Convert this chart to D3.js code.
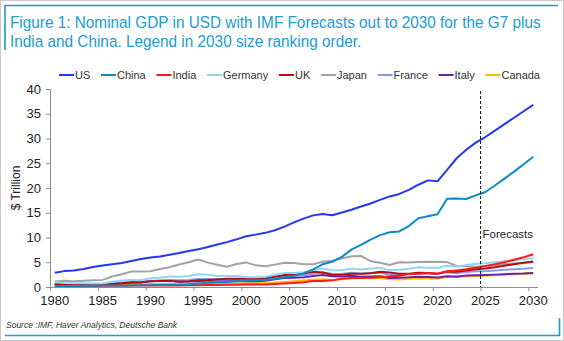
<!DOCTYPE html>
<html>
<head>
<meta charset="utf-8">
<script src="https://cdn.jsdelivr.net/npm/d3@7"></script>
<style>
  html, body { margin: 0; padding: 0; background: #fff; }
  svg { display: block; font-family: "Liberation Sans", Arial, sans-serif; }
</style>
</head>
<body>
<div id="chart"></div>
<script>
// Nominal GDP, $ trillion, 1980-2030 (IMF forecasts from 2025)
const years = d3.range(1980, 2031);
const countries = ['US', 'China', 'India', 'Germany', 'UK', 'Japan', 'France', 'Italy', 'Canada'];
const colors = ['#2438f0', '#0a8ac6', '#ff1a1a', '#93d5f5', '#b40f0f', '#a3a3a3', '#7f9ef2', '#6a22a8', '#ffbb00'];

const us = [2.86, 3.21, 3.35, 3.64, 4.04, 4.34, 4.58, 4.86, 5.24, 5.64, 5.96, 6.16, 6.52, 6.86, 7.29, 7.64, 8.07, 8.58, 9.06, 9.63,
  10.25, 10.58, 10.94, 11.46, 12.21, 13.04, 13.82, 14.47, 14.77, 14.48, 15.05, 15.60, 16.25, 16.88, 17.61, 18.30, 18.80, 19.61, 20.66, 21.54,
  21.35, 23.68, 26.01, 27.72, 29.17, 30.30, 31.60, 32.90, 34.20, 35.50, 36.80];
const china = [0.19, 0.20, 0.21, 0.23, 0.26, 0.31, 0.30, 0.27, 0.31, 0.35, 0.36, 0.38, 0.43, 0.44, 0.56, 0.73, 0.86, 0.96, 1.03, 1.09,
  1.21, 1.34, 1.47, 1.66, 1.96, 2.29, 2.75, 3.55, 4.59, 5.10, 6.09, 7.55, 8.53, 9.57, 10.48, 11.06, 11.23, 12.31, 13.89, 14.28,
  14.69, 17.82, 17.88, 17.79, 18.50, 19.20, 20.50, 21.90, 23.30, 24.80, 26.30];
const india = [0.19, 0.20, 0.21, 0.22, 0.22, 0.24, 0.25, 0.28, 0.30, 0.30, 0.33, 0.28, 0.29, 0.28, 0.33, 0.37, 0.40, 0.42, 0.43, 0.47,
  0.48, 0.49, 0.51, 0.61, 0.71, 0.82, 0.94, 1.22, 1.20, 1.34, 1.68, 1.82, 1.83, 1.86, 2.04, 2.10, 2.29, 2.65, 2.70, 2.84,
  2.67, 3.17, 3.35, 3.57, 3.89, 4.27, 4.60, 5.00, 5.50, 6.00, 6.60];
const germany = [0.95, 0.80, 0.78, 0.77, 0.72, 0.73, 1.04, 1.30, 1.41, 1.40, 1.77, 1.87, 2.13, 2.07, 2.21, 2.59, 2.50, 2.22, 2.24, 2.20,
  1.95, 1.95, 2.08, 2.50, 2.81, 2.85, 2.99, 3.42, 3.73, 3.40, 3.40, 3.74, 3.53, 3.73, 3.88, 3.36, 3.47, 3.69, 3.97, 3.89,
  3.89, 4.28, 4.08, 4.46, 4.71, 4.80, 5.00, 5.20, 5.40, 5.60, 5.80];
const uk = [0.60, 0.58, 0.55, 0.52, 0.49, 0.52, 0.63, 0.78, 0.95, 0.96, 1.17, 1.19, 1.21, 1.09, 1.17, 1.34, 1.41, 1.56, 1.65, 1.69,
  1.66, 1.64, 1.78, 2.05, 2.42, 2.54, 2.71, 3.09, 2.93, 2.41, 2.49, 2.66, 2.70, 2.79, 3.07, 2.93, 2.69, 2.68, 2.87, 2.85,
  2.70, 3.14, 3.09, 3.34, 3.59, 3.75, 4.00, 4.30, 4.60, 4.90, 5.15];
const japan = [1.13, 1.25, 1.16, 1.26, 1.34, 1.43, 2.13, 2.58, 3.12, 3.12, 3.19, 3.65, 3.99, 4.54, 4.99, 5.55, 4.92, 4.49, 4.10, 4.64,
  4.97, 4.37, 4.18, 4.52, 4.89, 4.83, 4.60, 4.58, 5.11, 5.29, 5.76, 6.23, 6.27, 5.21, 4.90, 4.44, 5.00, 4.93, 5.04, 5.12,
  5.06, 5.03, 4.26, 4.21, 4.07, 4.20, 4.40, 4.60, 4.75, 4.90, 5.05];
const france = [0.70, 0.62, 0.59, 0.56, 0.53, 0.55, 0.77, 0.93, 1.02, 1.03, 1.27, 1.28, 1.41, 1.34, 1.41, 1.60, 1.61, 1.46, 1.51, 1.49,
  1.36, 1.38, 1.50, 1.84, 2.12, 2.20, 2.32, 2.66, 2.93, 2.70, 2.65, 2.87, 2.68, 2.81, 2.86, 2.44, 2.47, 2.59, 2.79, 2.73,
  2.65, 2.96, 2.78, 3.03, 3.16, 3.20, 3.35, 3.50, 3.60, 3.70, 3.85];
const italy = [0.48, 0.43, 0.43, 0.44, 0.44, 0.45, 0.63, 0.78, 0.85, 0.90, 1.18, 1.24, 1.32, 1.06, 1.09, 1.17, 1.31, 1.24, 1.27, 1.25,
  1.15, 1.17, 1.28, 1.58, 1.81, 1.86, 1.95, 2.21, 2.41, 2.19, 2.14, 2.29, 2.09, 2.14, 2.16, 1.84, 1.88, 1.96, 2.09, 2.01,
  1.90, 2.18, 2.07, 2.30, 2.38, 2.42, 2.50, 2.60, 2.70, 2.75, 2.85];
const canada = [0.27, 0.31, 0.32, 0.35, 0.36, 0.37, 0.38, 0.43, 0.51, 0.57, 0.60, 0.61, 0.59, 0.58, 0.58, 0.60, 0.63, 0.66, 0.64, 0.68,
  0.74, 0.74, 0.76, 0.89, 1.02, 1.17, 1.32, 1.47, 1.55, 1.38, 1.62, 1.79, 1.83, 1.85, 1.81, 1.56, 1.53, 1.65, 1.73, 1.74,
  1.66, 2.01, 2.16, 2.14, 2.21, 2.28, 2.40, 2.50, 2.60, 2.70, 2.80];
const values = [us, china, india, germany, uk, japan, france, italy, canada];

const yTicks = [0, 5, 10, 15, 20, 25, 30, 35, 40];
const xTickYears = [1980, 1985, 1990, 1995, 2000, 2005, 2010, 2015, 2020, 2025, 2030];
const forecastStart = 2025;

const titleLines = [
  'Figure 1: Nominal GDP in USD with IMF Forecasts out to 2030 for the G7 plus',
  'India and China. Legend in 2030 size ranking order.'
];
const sourceText = 'Source :IMF, Haver Analytics, Deutsche Bank';

const W = 564, H = 341;
const accent = '#1b9bd7';

const svg = d3.select('#chart').append('svg')
  .attr('width', W)
  .attr('height', H);

// frame
svg.append('rect')
  .attr('x', 0.5).attr('y', 0.5)
  .attr('width', W - 1).attr('height', H - 1)
  .attr('fill', '#fff').attr('stroke', '#c9c9c9');

// blue corner rules
svg.append('path')
  .attr('d', 'M5,50 V5.5 H558')
  .attr('fill', 'none').attr('stroke', accent).attr('stroke-width', 1.6);
svg.append('path')
  .attr('d', 'M5,335.5 H559.5 V318')
  .attr('fill', 'none').attr('stroke', accent).attr('stroke-width', 1.6);

// title: house font is narrower than Arial, so scale each line horizontally
// until the first line fills the column
const titleWidth = 531;
const titleG = svg.append('g');
const titleText = titleG.selectAll('text')
  .data(titleLines)
  .enter().append('text')
  .attr('fill', accent)
  .attr('font-size', 16.5)
  .text(d => d);
const squeeze = titleWidth / titleText.nodes()[0].getComputedTextLength();
titleText.attr('transform', (d, i) => `translate(10,${27.5 + i * 19.5}) scale(${squeeze},1)`);

// scales: each year is a category; ticks sit between categories
const x = d3.scaleLinear().domain([1979.5, 2030.5]).range([50, 538]);
const y = d3.scaleLinear().domain([0, 40]).range([287, 89]);

// y axis
const yAxis = svg.append('g')
  .attr('transform', 'translate(50,0)')
  .call(d3.axisLeft(y).tickValues(yTicks).tickSize(4).tickPadding(5));
yAxis.select('.domain').attr('stroke', '#8c8c8c');
yAxis.selectAll('.tick line').attr('stroke', '#8c8c8c');
yAxis.selectAll('.tick text')
  .attr('font-size', 13).attr('fill', '#222')
  .attr('font-family', '"Liberation Sans", Arial, sans-serif');

// x axis: tick marks between categories, labels on the category centre
const xAxis = svg.append('g')
  .attr('transform', 'translate(0,287)')
  .call(d3.axisBottom(x).tickValues(xTickYears.map(d => d - 0.5)).tickSize(4).tickFormat(''))
  .call(g => g.select('.domain').attr('d', `M${x(1979.5)},0.5H${x(2030.5)}`));
xAxis.select('.domain').attr('stroke', '#8c8c8c');
xAxis.selectAll('.tick line').attr('stroke', '#8c8c8c');

svg.append('g').selectAll('text')
  .data(xTickYears)
  .enter().append('text')
  .attr('x', d => x(d))
  .attr('y', 305)
  .attr('text-anchor', 'middle')
  .attr('font-size', 13)
  .attr('fill', '#222')
  .text(d => d);

// y axis title
svg.append('text')
  .attr('transform', `translate(20,${y(20)}) rotate(-90)`)
  .attr('text-anchor', 'middle')
  .attr('font-size', 12)
  .attr('fill', '#222')
  .text('$ Trillion');

// series
const line = d3.line()
  .x((d, i) => x(years[i]))
  .y(d => y(d));

const series = countries.map((c, i) => ({ name: c, color: colors[i], values: values[i] }));

svg.append('g').selectAll('path')
  .data(series.slice().reverse())
  .enter().append('path')
  .attr('d', d => line(d.values))
  .attr('fill', 'none')
  .attr('stroke', d => d.color)
  .attr('stroke-width', 2)
  .attr('stroke-linejoin', 'round');

// forecast marker
svg.append('line')
  .attr('x1', x(forecastStart - 0.5)).attr('x2', x(forecastStart - 0.5))
  .attr('y1', y(40) + 2).attr('y2', y(0))
  .attr('stroke', '#111')
  .attr('stroke-width', 1)
  .attr('stroke-dasharray', '3,2');

svg.append('text')
  .attr('x', x(forecastStart - 0.5) + 2)
  .attr('y', y(9.8))
  .attr('font-size', 11.5)
  .attr('fill', '#222')
  .text('Forecasts');

// legend, spread evenly from the first swatch to the right edge of the plot
const legendLeft = 59, legendRight = 540, swatch = 15;
const legend = svg.append('g').attr('transform', `translate(${legendLeft},79)`);
const items = series.map(s => {
  const g = legend.append('g');
  g.append('line')
    .attr('x1', 0).attr('x2', swatch)
    .attr('y1', -4).attr('y2', -4)
    .attr('stroke', s.color).attr('stroke-width', 2);
  const t = g.append('text')
    .attr('x', swatch + 1)
    .attr('font-size', 11)
    .attr('fill', '#333')
    .text(s.name);
  return { g, w: swatch + 1 + t.node().getComputedTextLength() };
});
const gap = (legendRight - legendLeft - d3.sum(items, d => d.w)) / (items.length - 1);
let lx = 0;
items.forEach(it => {
  it.g.attr('transform', `translate(${lx},0)`);
  lx += it.w + gap;
});

// source
svg.append('text')
  .attr('x', 6)
  .attr('y', 328)
  .attr('font-size', 8.5)
  .attr('font-style', 'italic')
  .attr('fill', '#333')
  .text(sourceText);
</script>
</body>
</html>
